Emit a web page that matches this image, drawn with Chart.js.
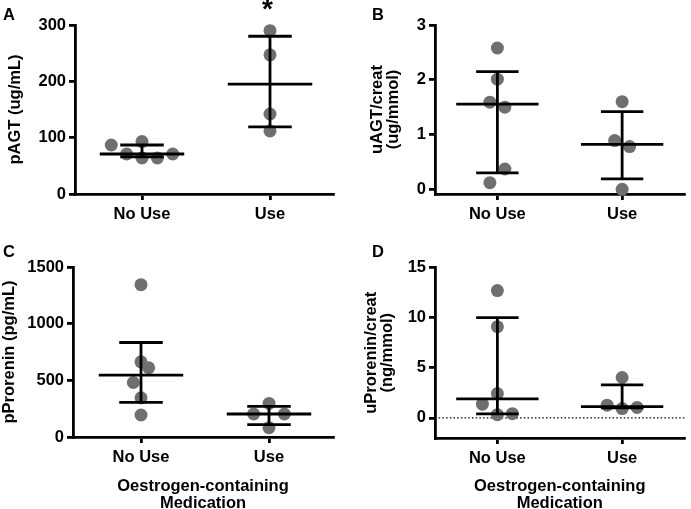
<!DOCTYPE html>
<html>
<head>
<meta charset="utf-8">
<script src="https://cdn.jsdelivr.net/npm/chart.js@4.4.1/dist/chart.umd.min.js"></script>
<style>
html,body{margin:0;padding:0;background:#fff;overflow:hidden;}
#wrap{position:relative;width:691px;height:509px;}
canvas{position:absolute;left:0;top:0;}
.lbl{position:absolute;font-family:"Liberation Sans",Arial,sans-serif;font-weight:bold;color:#000;line-height:1;white-space:nowrap;}
</style>
</head>
<body>
<div id="wrap">
<canvas id="cA" width="691" height="509"></canvas>
<canvas id="cB" width="691" height="509"></canvas>
<canvas id="cC" width="691" height="509"></canvas>
<canvas id="cD" width="691" height="509"></canvas>
<div class="lbl" style="left:3px;top:6px;font-size:16.5px;">A</div>
<div class="lbl" style="left:372px;top:6px;font-size:16.5px;">B</div>
<div class="lbl" style="left:3px;top:243px;font-size:16.5px;">C</div>
<div class="lbl" style="left:372px;top:243px;font-size:16.5px;">D</div>
<div class="lbl" style="left:262px;top:-5px;font-size:28px;">*</div>
</div>
<script>
// ---------- DATA ----------
const categories = ['No Use', 'Use'];

// A: pAGT (ug/mL)
const aNoUse = [87, 71, 93, 64, 64, 71];
const aUse = [290, 247, 142, 112];
const aCenter = [71, 195];
const aLow = [66, 119];
const aHigh = [87, 280];
const aTicks = [0, 100, 200, 300];

// B: uAGT/creat (ug/mmol)
const bNoUse = [2.58, 2.01, 1.59, 1.50, 0.37, 0.12];
const bUse = [1.60, 0.89, 0.78, 0.0];
const bCenter = [1.555, 0.82];
const bLow = [0.30, 0.19];
const bHigh = [2.15, 1.42];
const bTicks = [0, 1, 2, 3];

// C: pProrenin (pg/mL)
const cNoUse = [1344, 663, 611, 481, 346, 194];
const cUse = [296, 203, 203, 82];
const cCenter = [546, 203];
const cLow = [305, 109];
const cHigh = [834, 270];
const cTicks = [0, 500, 1000, 1500];

// D: uProrenin/creat (ng/mmol)
const dNoUse = [12.7, 9.1, 2.43, 1.37, 0.33, 0.43];
const dUse = [4.03, 1.27, 0.93, 1.05];
const dCenter = [1.9, 1.13];
const dLow = [0.4, 1.0];
const dHigh = [10.0, 3.3];
const dTicks = [0, 5, 10, 15];

// ---------- STYLE / LAYOUT ----------
const JIT_STEP = 0.12; // horizontal dot spread, in category units
const jitA = [[-2,-1,0,0,1,2],[0,0,0,0]];
const jitB = [[0,0,-0.5,0.5,0.5,-0.5],[0,-0.5,0.5,0]];
const jitC = [[0,0,0.5,-0.5,0,0],[0,-1,1,0]];
const jitD = [[0,0,0,-1,0,1],[0,-1,0,1]];
const FONT = {family:'"Liberation Sans", Arial, sans-serif', size:16.5, weight:'bold'};
const W = 691, H = 509;
const LW = 2.8;

const panels = [
  {id:'cA', groups:[aNoUse,aUse], center:aCenter, low:aLow, high:aHigh, ticks:aTicks, jit:jitA,
   yMin:0, yMax:300, title:'pAGT (ug/mL)', titlePad:7,
   geo:{panelLeft:0, plotLeft:75, cat1:142, cat2:270, plotRight:333, top:25, bottom:194}},
  {id:'cB', groups:[bNoUse,bUse], center:bCenter, low:bLow, high:bHigh, ticks:bTicks, jit:jitB,
   yMin:-0.086, yMax:3, title:['uAGT/creat','(ug/mmol)'], titlePad:24,
   geo:{panelLeft:345, plotLeft:435, cat1:499, cat2:627, plotRight:691, top:25, bottom:194}},
  {id:'cC', groups:[cNoUse,cUse], center:cCenter, low:cLow, high:cHigh, ticks:cTicks, jit:jitC,
   yMin:0, yMax:1500, title:'pProrenin (pg/mL)', titlePad:1, xTitle:true,
   geo:{panelLeft:0, plotLeft:73, cat1:141, cat2:269, plotRight:333, top:267, bottom:437}},
  {id:'cD', groups:[dNoUse,dUse], center:dCenter, low:dLow, high:dHigh, ticks:dTicks, jit:jitD,
   yMin:-2, yMax:15, title:['uProrenin/creat','(ng/mmol)'], titlePad:18, xTitle:true, zeroLine:true,
   geo:{panelLeft:345, plotLeft:435, cat1:499, cat2:627, plotRight:691, top:267.5, bottom:438}}
];

function build(p) {
  const g = p.geo;
  const unit = g.cat2 - g.cat1;
  const xMin = 1 - (g.cat1 - g.plotLeft) / unit;
  const xMax = 2 + (g.plotRight - g.cat2) / unit;
  const line = {type:'scatter', showLine:true, borderColor:'#000', backgroundColor:'#000',
                borderWidth:LW, pointRadius:0, pointHoverRadius:0, fill:false, order:0, clip:false};
  const ds = [];
  for (let i = 0; i < 2; i++) {
    const xc = i + 1;
    ds.push({...line, data:[{x:xc-0.33,y:p.center[i]},{x:xc+0.33,y:p.center[i]}]});
    ds.push({...line, data:[{x:xc,y:p.low[i]},{x:xc,y:p.high[i]}]});
    ds.push({...line, data:[{x:xc-0.17,y:p.high[i]},{x:xc+0.17,y:p.high[i]}]});
    ds.push({...line, data:[{x:xc-0.17,y:p.low[i]},{x:xc+0.17,y:p.low[i]}]});
  }
  p.groups.forEach((vals, i) => {
    ds.push({type:'scatter', showLine:false, order:1, clip:false,
      data: vals.map((v,k) => ({x: i + 1 + p.jit[i][k] * JIT_STEP, y: v})),
      pointRadius:6.5, pointHoverRadius:6.5, backgroundColor:'#6f6f6f', borderWidth:0});
  });
  if (p.zeroLine) {
    ds.push({...line, borderWidth:1.3, borderDash:[1.5,2.2], order:2,
      data:[{x:xMin,y:0},{x:xMax,y:0}]});
  }
  const axisGrid = {display:true, drawOnChartArea:false, drawTicks:true, tickLength:6, color:'#000', lineWidth:LW};
  const axisBorder = {display:true, color:'#000', width:LW};
  new Chart(document.getElementById(p.id), {
    type:'scatter',
    data:{datasets:ds},
    options:{
      responsive:false, animation:false, events:[],
      layout:{padding:{left:g.panelLeft, top:g.top, right:W - g.plotRight, bottom:0}},
      plugins:{legend:{display:false}, tooltip:{enabled:false}},
      scales:{
        x:{type:'linear', min:xMin, max:xMax,
           afterBuildTicks:s => { s.ticks = [{value:1},{value:2}]; },
           afterFit:s => { s.height = H - g.bottom; },
           ticks:{callback:v => categories[Math.round(v)-1] || '', font:FONT, color:'#000', padding:5, maxRotation:0, autoSkip:false},
           grid:axisGrid, border:axisBorder,
           title:{display:!!p.xTitle, text:['Oestrogen-containing','Medication'], color:'#000',
                  font:{...FONT, lineHeight:1.0}, padding:{top:0, bottom:-2.5}}},
        y:{type:'linear', min:p.yMin, max:p.yMax,
           afterBuildTicks:s => { s.ticks = p.ticks.map(v => ({value:v})); },
           afterFit:s => { s.width = g.plotLeft - g.panelLeft; },
           ticks:{callback:v => String(v), font:FONT, color:'#000', padding:3, autoSkip:false},
           grid:axisGrid, border:axisBorder,
           title:{display:true, text:p.title, color:'#000',
                  font:{...FONT, lineHeight:1.0}, padding:{top:p.titlePad, bottom:0}}}
      }
    }
  });
}
panels.forEach(build);
</script>
</body>
</html>
